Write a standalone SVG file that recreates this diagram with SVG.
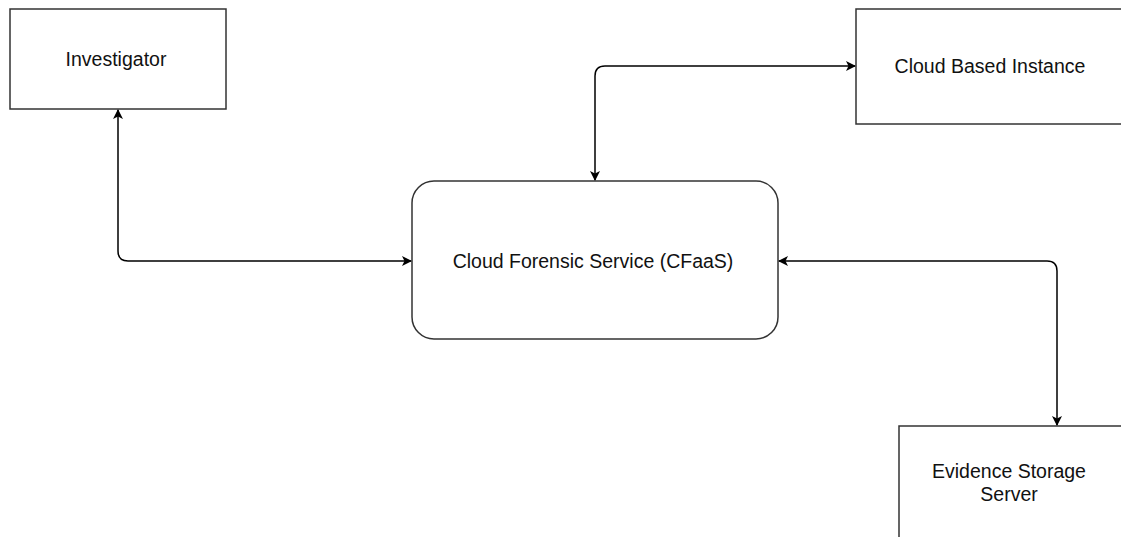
<svg xmlns="http://www.w3.org/2000/svg" width="1121" height="537" viewBox="0 0 1121 537">
<style>
.box{fill:#fff;stroke:#333;stroke-width:1.5}
.lbl{font-family:"Liberation Sans",Arial,sans-serif;font-size:19.5px;fill:#111;text-anchor:middle}
.edge{fill:none;stroke:#000;stroke-width:1.5}
</style>
<defs>
<marker id="arr" viewBox="0 0 10 10" refX="9" refY="5" markerWidth="10" markerHeight="10" markerUnits="userSpaceOnUse" orient="auto-start-reverse">
<path d="M0,0 L10,5 L0,10 L2.5,5 Z" fill="#000"/>
</marker>
</defs>
<rect width="1121" height="537" fill="#fff"/>
<g id="investigator">
<rect class="box" x="10" y="9" width="216" height="100"/>
<text class="lbl" x="116" y="66">Investigator</text>
</g>
<g id="cloud-instance">
<rect class="box" x="856" y="9" width="280" height="115"/>
<text class="lbl" x="990" y="73">Cloud Based Instance</text>
</g>
<g id="cfaas">
<rect class="box" x="412" y="181" width="366" height="158" rx="22" ry="22"/>
<text class="lbl" x="593" y="268">Cloud Forensic Service (CFaaS)</text>
</g>
<g id="evidence">
<rect class="box" x="899" y="426" width="240" height="130"/>
<text class="lbl" x="1009" y="478">Evidence Storage</text>
<text class="lbl" x="1009" y="501">Server</text>
</g>
<g id="connectors">
<path class="edge" d="M118,110 L118,251 Q118,261 128,261 L411,261" marker-start="url(#arr)" marker-end="url(#arr)"/>
<path class="edge" d="M595,180 L595,76 Q595,66 605,66 L855,66" marker-start="url(#arr)" marker-end="url(#arr)"/>
<path class="edge" d="M779,261 L1047,261 Q1057,261 1057,271 L1057,425" marker-start="url(#arr)" marker-end="url(#arr)"/>
</g>
</svg>
